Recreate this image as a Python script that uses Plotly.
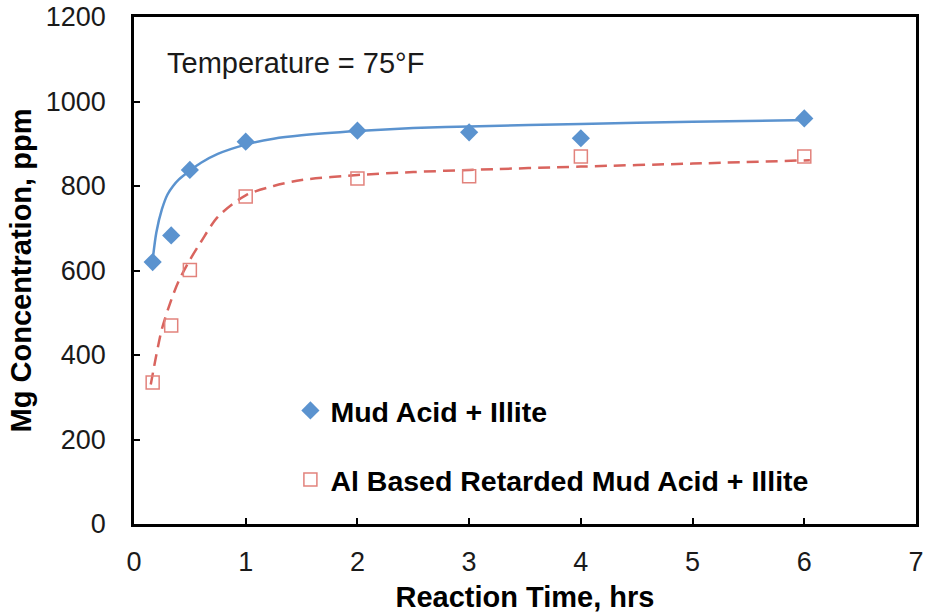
import plotly.graph_objects as go

# Measured data
time_hrs = [0.167, 0.333, 0.5, 1, 2, 3, 4, 6]
mud_acid = [620, 683, 838, 905, 931, 927, 913, 960]
retarded = [335, 470, 601, 775, 818, 823, 870, 870]

# Trend curves
blue_fit_t = [0.167, 0.2, 0.25, 0.3, 0.35, 0.4, 0.5, 0.6, 0.75, 1.0, 1.25, 1.5, 2, 2.5, 3, 4, 5, 6.05]
blue_fit_y = [625, 690, 745, 780, 800, 815, 836, 855, 876, 898, 912, 920, 930, 937, 941, 947, 952, 956]
red_fit_t = [0.15, 0.2, 0.25, 0.333, 0.4, 0.5, 0.6, 0.75, 1.0, 1.25, 1.5, 2, 2.5, 3, 4, 5, 6.05]
red_fit_y = [330, 400, 462, 530, 575, 625, 668, 727, 778, 800, 814, 826, 833, 838, 846, 853, 861]

BLUE = "#5B93CF"
RED_LINE = "#D9645E"
RED_MARK = "#E2827C"
FONT = "Liberation Sans, Arial, sans-serif"

fig = go.Figure()
fig.add_trace(go.Scatter(x=blue_fit_t, y=blue_fit_y, mode="lines",
                         line=dict(color=BLUE, width=2.5, shape="spline", smoothing=0.8),
                         showlegend=False, hoverinfo="skip"))
fig.add_trace(go.Scatter(x=red_fit_t, y=red_fit_y, mode="lines",
                         line=dict(color=RED_LINE, width=2.5, dash="12px,7px", shape="spline", smoothing=0.8),
                         showlegend=False, hoverinfo="skip"))
fig.add_trace(go.Scatter(x=time_hrs, y=mud_acid, mode="markers", name="Mud Acid + Illite",
                         marker=dict(symbol="diamond", size=14, color=BLUE),
                         legend="legend"))
fig.add_trace(go.Scatter(x=time_hrs, y=retarded, mode="markers", name="Al Based Retarded Mud Acid + Illite",
                         marker=dict(symbol="square-open", size=13, color=RED_MARK, line=dict(width=1.5, color=RED_MARK)),
                         legend="legend2"))

axis_common = dict(showline=True, linecolor="black", linewidth=2.5, mirror=True,
                   ticks="inside", ticklen=6, tickwidth=2, tickcolor="black",
                   showgrid=False, zeroline=False, automargin=False,
                   tickfont=dict(family=FONT, size=27, color="#1a1a1a"))

fig.update_layout(
    width=927, height=615,
    margin=dict(l=134, r=11, t=17, b=91),
    paper_bgcolor="white", plot_bgcolor="white",
    font=dict(family=FONT, color="black"),
    xaxis=dict(range=[0, 7], dtick=1, tick0=0, ticklabelstandoff=12,
               title=dict(text="<b>Reaction Time, hrs</b>", font=dict(family=FONT, size=29), standoff=11),
               **axis_common),
    yaxis=dict(range=[0, 1200], dtick=200, tick0=0, ticklabelstandoff=20,
               title=dict(text="<b>Mg Concentration, ppm</b>", font=dict(family=FONT, size=29), standoff=6),
               **axis_common),
    legend=dict(x=0.2, y=0.223, xanchor="left", yanchor="middle",
                font=dict(family=FONT, size=28.5, color="black"), bgcolor="rgba(0,0,0,0)",
                itemwidth=30),
    legend2=dict(x=0.2, y=0.087, xanchor="left", yanchor="middle",
                 font=dict(family=FONT, size=28.5, color="black"), bgcolor="rgba(0,0,0,0)",
                 itemwidth=30),
    annotations=[dict(text="Temperature = 75°F", xref="paper", yref="paper",
                      x=0.04, y=0.909, xanchor="left", yanchor="middle", showarrow=False,
                      font=dict(family=FONT, size=29, color="#1a1a1a"))],
)
fig.update_layout(legend_font_weight="bold", legend2_font_weight="bold")

fig.write_html("out.html")
